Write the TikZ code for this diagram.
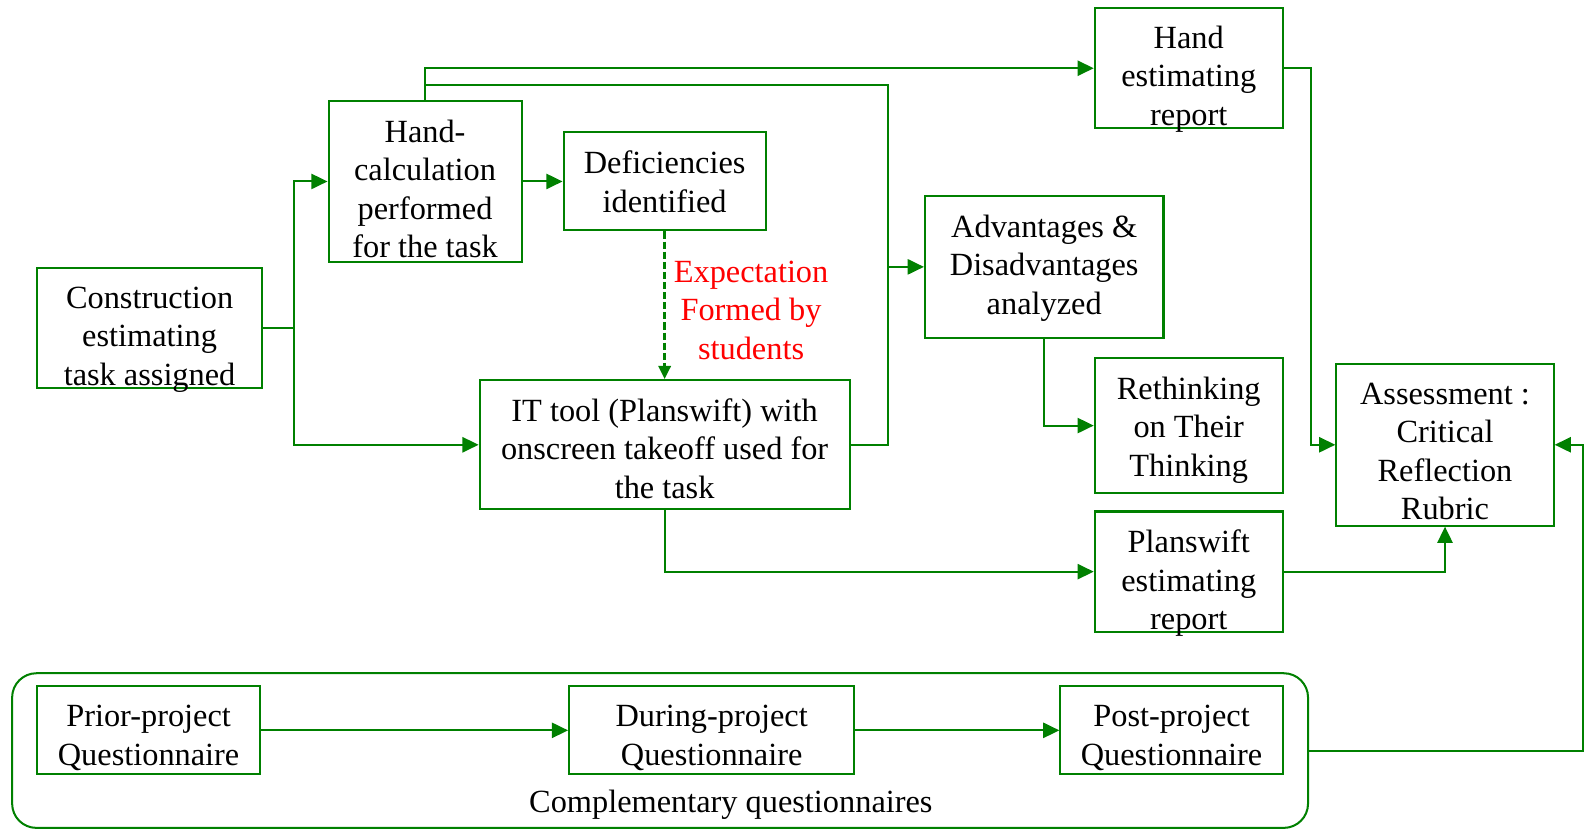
\documentclass[tikz,border=0pt]{standalone}
\usepackage{fontspec}
\newfontfamily\boxfont{Liberation Serif}
\newcommand*{\flowfont}{\boxfont\fontsize{16}{19}\selectfont}
\definecolor{boxgreen}{RGB}{0,128,0}
\definecolor{notered}{RGB}{255,0,0}
\usepackage{tikz}
\usetikzlibrary{arrows.meta}
\tikzstyle{base}=[x=0.5pt, y=-0.5pt, line width=1pt]
\tikzstyle{box}=[draw=boxgreen, line width=1pt, inner sep=0pt, align=center, text depth=0pt]
\tikzstyle{arr}=[draw=boxgreen, line width=1pt, -{Triangle[length=8pt,width=7.5pt]}]
\tikzstyle{wire}=[draw=boxgreen, line width=1pt]
\tikzstyle{dashedarr}=[draw=boxgreen, line width=1.5pt, dash pattern=on 3.5pt off 1.5pt, -{Triangle[length=6.5pt,width=6pt]}]

\begin{document}
\begin{tikzpicture}[base]
    \flowfont
        \path [use as bounding box] (0,0) rectangle (1568,821);
        % main boxes
        \node [box, minimum width=111pt, minimum height=59.5pt, text height=56.5pt] (con) at (148,324.5) {Construction\\estimating\\task assigned};
        \node [box, minimum width=95.5pt, minimum height=79.5pt, text height=75.5pt] (hand) at (420.5,179.5) {Hand-\\calculation\\performed\\for the task};
        \node [box, minimum width=100pt, minimum height=48.5pt, text height=30.5pt] (def) at (657.5,179.5) {Deficiencies\\identified};
        \node [box, minimum width=183pt, minimum height=64pt, text height=53pt] (it) at (657.5,440) {IT tool (Planswift) with\\onscreen takeoff used for\\the task};
        \node [box, minimum width=93pt, minimum height=59.5pt, text height=56.5pt] (handrep) at (1176,67.5) {Hand\\estimating\\report};
        \node [box, minimum width=118pt, minimum height=70pt, text height=47pt] (adv) at (1033,264) {Advantages \&\\Disadvantages\\analyzed};
        \node [box, minimum width=93pt, minimum height=67pt, text height=50pt] (rethink) at (1176,421) {Rethinking\\on Their\\Thinking};
        \node [box, minimum width=93pt, minimum height=59.5pt, text height=57.5pt] (plrep) at (1176,565.5) {Planswift\\estimating\\report};
        \node [box, minimum width=107.5pt, minimum height=80pt, text height=74pt] (assess) at (1429.5,440) {Assessment :\\Critical\\Reflection\\Rubric};
        \node [align=center, text=notered] (expect) at (743,307) {Expectation\\Formed by\\students};
        % questionnaires
        \node [box, rounded corners=12pt, minimum width=641pt, minimum height=76.5pt] (comp) at (653,742.5) {};
        \node [box, minimum width=110pt, minimum height=43.5pt, text height=34.5pt] (prior) at (147,722.5) {Prior-project\\Questionnaire};
        \node [box, minimum width=141pt, minimum height=43.5pt, text height=34.5pt] (during) at (704,722.5) {During-project\\Questionnaire};
        \node [box, minimum width=110pt, minimum height=43.5pt, text height=34.5pt] (post) at (1159,722.5) {Post-project\\Questionnaire};
        \node (complabel) at (723,796) {Complementary questionnaires};
        % connectors
        \coordinate (split) at (291,324.5);
        \coordinate (loop) at (878,84);
        \coordinate (rr) at (1297,440);
        \coordinate (rgt) at (1566,742.5);
        \draw [wire] (con.east) -- (split);
        \draw [arr] (split) |- (hand.west);
        \draw [arr] (split) |- (it.west);
        \draw [arr] (hand.east) -- (def.west);
        \draw [dashedarr] (def.south) -- (it.north);
        \draw [arr] (hand.north) |- (handrep.west);
        \draw [wire] (it.east) -| (loop) -| (hand.north);
        \draw [arr] (loop |- adv.west) -- (adv.west);
        \draw [arr] (adv.south) |- (rethink.west);
        \draw [arr] (handrep.east) -| (rr) -- (assess.west);
        \draw [arr] (it.south) |- (plrep.west);
        \draw [arr] (plrep.east) -| (assess.south);
        \draw [arr] (comp.east) -- (rgt) |- (assess.east);
        \draw [arr] (prior) -- (during);
        \draw [arr] (during) -- (post);
    \end{tikzpicture}
\end{document}
